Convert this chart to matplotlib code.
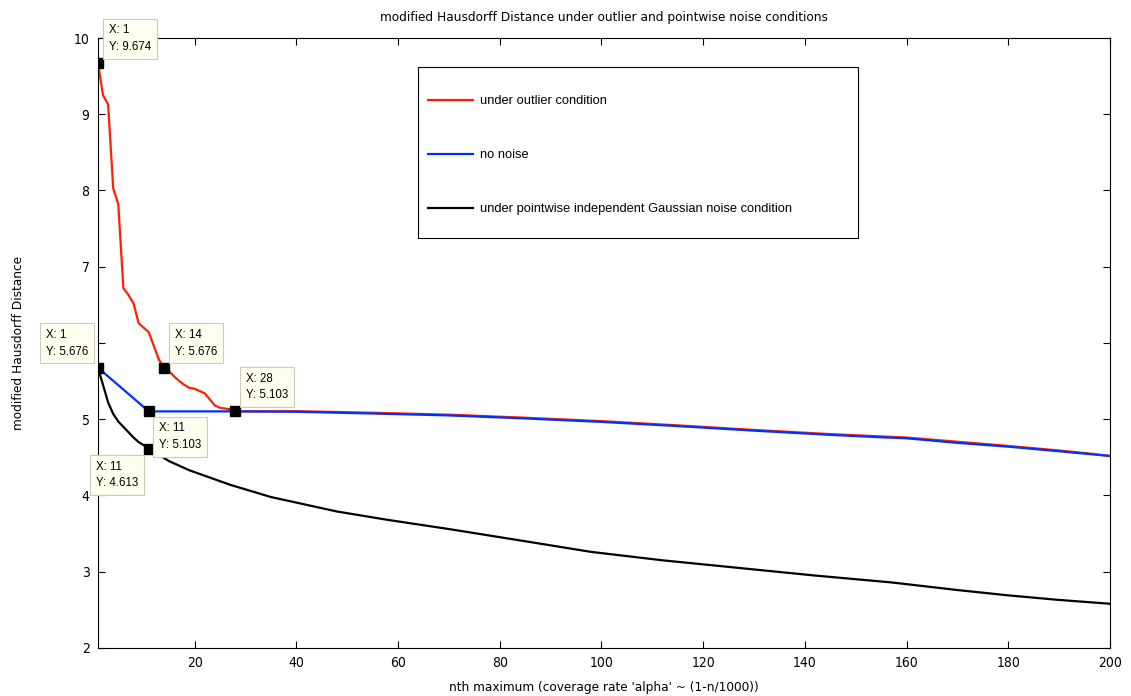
import numpy as np
import matplotlib
matplotlib.use('Agg')
import matplotlib.pyplot as plt
from matplotlib.patches import Rectangle

# values
x_outlier = [1, 2, 3, 4, 5, 6, 7, 8, 9, 10, 11, 12, 13, 14, 15, 16, 17, 18, 19, 20,
             21, 22, 23, 24, 25, 26, 27, 28, 40, 55, 70, 85, 100, 115, 130, 145,
             155, 160, 170, 180, 190, 196, 200]
y_outlier = [9.674, 9.25, 9.13, 8.03, 7.82, 6.72, 6.63, 6.52, 6.26, 6.20, 6.14, 5.96,
             5.78, 5.676, 5.63, 5.56, 5.50, 5.45, 5.41, 5.40, 5.37, 5.34, 5.26, 5.18,
             5.15, 5.14, 5.13, 5.103, 5.106, 5.085, 5.06, 5.02, 4.975, 4.92, 4.86,
             4.805, 4.775, 4.76, 4.705, 4.65, 4.59, 4.55, 4.518]

x_clean = [1, 11, 28, 40, 55, 70, 85, 100, 115, 130, 145, 155, 160, 170, 180, 190, 200]
y_clean = [5.676, 5.103, 5.103, 5.098, 5.075, 5.05, 5.01, 4.965, 4.91, 4.85, 4.795,
           4.763, 4.75, 4.69, 4.64, 4.58, 4.518]

x_gauss = [1, 2, 3, 4, 5, 6, 7, 8, 9, 10, 11, 15, 19, 27, 35, 48, 58, 70, 85, 98,
           112, 127, 142, 157, 170, 180, 190, 200]
y_gauss = [5.676, 5.45, 5.22, 5.07, 4.97, 4.90, 4.83, 4.76, 4.70, 4.66, 4.613, 4.45,
           4.33, 4.14, 3.98, 3.79, 3.68, 3.56, 3.40, 3.26, 3.15, 3.05, 2.95, 2.86,
           2.76, 2.69, 2.63, 2.58]

# data tips: (x, y, which corner the box sits at)
tips_x = [1, 1, 14, 28, 11, 11]
tips_y = [9.674, 5.676, 5.676, 5.103, 5.103, 4.613]
tips_side = ['ur', 'ul', 'ur', 'ur', 'lr', 'll']

arial = ['Liberation Sans', 'DejaVu Sans']
narrow = dict(family='DejaVu Sans', stretch='condensed')

fig = plt.figure(figsize=(11.31, 6.96), dpi=100)
ax = fig.add_axes([0.0866, 0.069, 0.8948, 0.8764])

ax.plot(x_outlier, y_outlier, color='#ff2000', lw=1.6, label='under outlier condition')
ax.plot(x_clean, y_clean, color='#0030ff', lw=1.6, label='no noise')
ax.plot(x_gauss, y_gauss, color='black', lw=1.6,
        label='under pointwise independent Gaussian noise condition')

ax.plot(tips_x, tips_y, 's', color='black', ms=6.5, zorder=5)

offsets = {'ur': (11, 10, 'left', 'bottom'), 'ul': (-10, 10, 'right', 'bottom'),
           'lr': (10, -11, 'left', 'top'), 'll': (-11, -12, 'right', 'top')}
for tx, ty, side in zip(tips_x, tips_y, tips_side):
    dx, dy, ha, va = offsets[side]
    ax.annotate('X: %d\nY: %.3f' % (tx, ty), xy=(tx, ty), xytext=(dx, dy),
                textcoords='offset pixels', ha=ha, va=va, multialignment='left',
                fontsize=8.3, family=arial, linespacing=1.5, zorder=6,
                bbox=dict(boxstyle='square,pad=0.5', fc='#fffff0', ec='#cfcab8', lw=0.8))

ax.set_xlim(1, 200)
ax.set_ylim(2, 10)
ax.set_xticks(np.arange(20, 201, 20))
ax.set_yticks(np.arange(2, 10.1, 1))
ax.tick_params(direction='in', top=True, right=True, length=5, width=0.8,
               labelsize=10, pad=6)
for lab in ax.get_xticklabels() + ax.get_yticklabels():
    lab.set_family('DejaVu Sans')
    lab.set_stretch('condensed')
for s in ax.spines.values():
    s.set_linewidth(0.8)

ax.set_title('modified Hausdorff Distance under outlier and pointwise noise conditions',
             fontsize=9.7, pad=12, **narrow)
ax.set_xlabel("nth maximum (coverage rate 'alpha' ~ (1-n/1000))", fontsize=9.7,
              labelpad=8, **narrow)
ax.set_ylabel('modified Hausdorff Distance', fontsize=9.7, **narrow)
ax.yaxis.set_label_coords(-0.072, 0.5)

# legend box drawn separately so its padding can match the reference
ax.add_patch(Rectangle((0.3162, 0.672), 0.4348, 0.28, transform=ax.transAxes,
                       fc='white', ec='black', lw=0.8, zorder=7))
leg = ax.legend(loc='upper left', bbox_to_anchor=(0.326, 0.906), frameon=False,
                prop={'family': arial, 'size': 9.3}, labelspacing=3.25,
                handlelength=3.5, handletextpad=0.55, borderpad=0, borderaxespad=0)
leg.set_zorder(8)

fig.savefig('out.png', dpi=100)
